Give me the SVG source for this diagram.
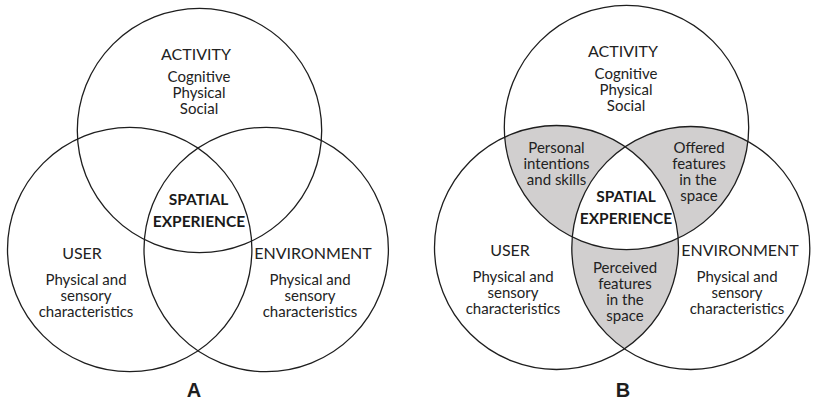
<svg xmlns="http://www.w3.org/2000/svg" width="814" height="402" viewBox="0 0 814 402">
<style>
.c{fill:none;stroke:#1e1e1e;stroke-width:1.3}
.h{font-family:Lato,"Open Sans","Liberation Sans",sans-serif;font-size:16px;fill:#222;text-anchor:middle}
.t{font-family:Lato,"Open Sans","Liberation Sans",sans-serif;font-size:15px;fill:#222;text-anchor:middle}
.b{font-family:Lato,"Open Sans","Liberation Sans",sans-serif;font-size:15.5px;font-weight:bold;fill:#1a1a1a;text-anchor:middle}
.L{font-family:"Liberation Sans",Arial,sans-serif;font-size:20px;font-weight:bold;fill:#1e1e1e;text-anchor:middle}
.g{fill:#d1cfcf}
</style>
<defs>
<clipPath id="cTop"><circle cx="626.5" cy="127.5" r="122.2"/></clipPath>
<clipPath id="cBL"><circle cx="556.5" cy="247.5" r="122"/></clipPath>
</defs>

<!-- Diagram A -->
<g id="A-activity">
<circle class="c" cx="199.5" cy="130.5" r="122.2"/>
<text class="h" x="196" y="60">ACTIVITY</text>
<text class="t" x="199" y="82">Cognitive<tspan x="199" dy="16">Physical</tspan><tspan x="199" dy="16">Social</tspan></text>
</g>
<g id="A-user">
<circle class="c" cx="129.7" cy="249.5" r="122.2"/>
<text class="h" x="82" y="259">USER</text>
<text class="t" x="86" y="285">Physical and<tspan x="86" dy="16">sensory</tspan><tspan x="86" dy="16">characteristics</tspan></text>
</g>
<g id="A-environment">
<circle class="c" cx="266.2" cy="249.5" r="122.2"/>
<text class="h" x="313" y="259">ENVIRONMENT</text>
<text class="t" x="310" y="285">Physical and<tspan x="310" dy="16">sensory</tspan><tspan x="310" dy="16">characteristics</tspan></text>
</g>
<g id="A-spatial">
<text class="b" x="198.5" y="205">SPATIAL<tspan x="199" dy="22">EXPERIENCE</tspan></text>
</g>
<g id="A-label"><text class="L" x="194" y="397">A</text></g>

<!-- Diagram B -->
<g id="B-shading">
<circle class="g" cx="556.5" cy="247.5" r="122" clip-path="url(#cTop)"/>
<ellipse class="g" cx="690.8" cy="248" rx="119" ry="121.5" clip-path="url(#cTop)"/>
<ellipse class="g" cx="690.8" cy="248" rx="119" ry="121.5" clip-path="url(#cBL)"/>
<g clip-path="url(#cTop)"><ellipse fill="#ffffff" cx="690.8" cy="248" rx="119" ry="121.5" clip-path="url(#cBL)"/></g>
</g>
<g id="B-activity">
<circle class="c" cx="626.5" cy="127.5" r="122.2"/>
<text class="h" x="623" y="57">ACTIVITY</text>
<text class="t" x="626" y="79">Cognitive<tspan x="626" dy="16">Physical</tspan><tspan x="626" dy="16">Social</tspan></text>
</g>
<g id="B-user">
<circle class="c" cx="556.5" cy="247.5" r="122"/>
<text class="h" x="510" y="256">USER</text>
<text class="t" x="513" y="282">Physical and<tspan x="513" dy="16">sensory</tspan><tspan x="513" dy="16">characteristics</tspan></text>
</g>
<g id="B-environment">
<ellipse class="c" cx="690.8" cy="248" rx="119" ry="121.5"/>
<text class="h" x="740" y="256">ENVIRONMENT</text>
<text class="t" x="737" y="282">Physical and<tspan x="737" dy="16">sensory</tspan><tspan x="737" dy="16">characteristics</tspan></text>
</g>
<g id="B-personal">
<text class="t" x="556.5" y="153">Personal<tspan x="556.5" dy="16">intentions</tspan><tspan x="556.5" dy="16">and skills</tspan></text>
</g>
<g id="B-offered">
<text class="t" x="699" y="153">Offered<tspan x="699" dy="16">features</tspan><tspan x="698" dy="16">in the</tspan><tspan x="699" dy="16">space</tspan></text>
</g>
<g id="B-perceived">
<text class="t" x="625" y="273">Perceived<tspan x="625" dy="16">features</tspan><tspan x="625" dy="16">in the</tspan><tspan x="625" dy="16">space</tspan></text>
</g>
<g id="B-spatial">
<text class="b" x="626" y="202">SPATIAL<tspan x="626" dy="22">EXPERIENCE</tspan></text>
</g>
<g id="B-label"><text class="L" x="623" y="397">B</text></g>
</svg>
